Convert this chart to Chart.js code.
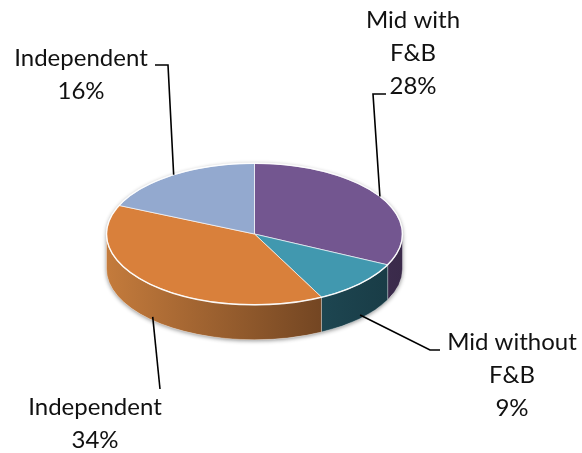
<!doctype html>
<html lang="en">
<head>
<meta charset="utf-8">
<title>Market share</title>
<style>
  html, body { margin: 0; padding: 0; background: #fff; }
  canvas { display: block; }
</style>
</head>
<body>
<canvas id="shareChart" width="582" height="453"></canvas>

<script src="https://cdn.jsdelivr.net/npm/chart.js"></script>
<script>
// slice data, clockwise from 12 o'clock
const categories = [['Mid with', 'F&B'], ['Mid without', 'F&B'], ['Independent'], ['Independent']];
const shares = [28, 9, 34, 16];
const topColors = ['#735690', '#4198AF', '#D9803B', '#93A9CF'];
const sideLight = ['#5E4676', '#2B6573', '#C47B3C', '#7A8DB0'];
const sideDark = ['#3A2A4A', '#183A44', '#553219', '#4C5A75'];

// label placement: text centre, line height, leader start and elbow
const labelPos = [
  { x: 413, y: 20, anchor: [386, 94], elbow: [373, 94] },
  { x: 512, y: 342, anchor: [440, 350], elbow: [430, 350] },
  { x: 95, y: 407, anchor: [160, 389], elbow: [160, 389] },
  { x: 81, y: 58, anchor: [155, 65], elbow: [168, 65] }
];
const LINE_H = 33;

const TILT = 0.478;   // vertical squash of the top face
const DEPTH = 35;     // thickness of the disc

function frontRanges(s, e) {
  const out = [];
  [[0, Math.PI], [2 * Math.PI, 3 * Math.PI]].forEach(function (r) {
    const a = Math.max(s, r[0]), b = Math.min(e, r[1]);
    if (b > a) out.push([a, b]);
  });
  return out;
}

const pie3d = {
  id: 'pie3d',
  beforeDatasetsDraw(chart) {
    const ctx = chart.ctx;
    const arcs = chart.getDatasetMeta(0).data;
    const cx = arcs[0].x, cy = arcs[0].y, r = arcs[0].outerRadius;
    const ry = r * TILT;

    // soft shadow round the whole disc
    ctx.save();
    ctx.beginPath();
    ctx.ellipse(cx, cy, r, ry, 0, Math.PI, 2 * Math.PI);
    ctx.ellipse(cx, cy + DEPTH, r, ry, 0, 0, Math.PI);
    ctx.closePath();
    ctx.shadowColor = 'rgba(0,0,0,0.45)';
    ctx.shadowBlur = 4;
    ctx.shadowOffsetY = 1;
    ctx.fillStyle = '#fff';
    ctx.fill();
    ctx.restore();

    // side walls of the slices facing the viewer
    arcs.forEach(function (arc, i) {
      frontRanges(arc.startAngle, arc.endAngle).forEach(function (rg) {
        ctx.beginPath();
        ctx.ellipse(cx, cy, r, ry, 0, rg[0], rg[1]);
        ctx.ellipse(cx, cy + DEPTH, r, ry, 0, rg[1], rg[0], true);
        ctx.closePath();
        const g = ctx.createLinearGradient(cx - r, 0, cx + r, 0);
        g.addColorStop(0, sideLight[i]);
        g.addColorStop(1, sideDark[i]);
        ctx.fillStyle = g;
        ctx.fill();
        ctx.strokeStyle = 'rgba(255,255,255,0.35)';
        ctx.lineWidth = 0.8;
        ctx.stroke();
      });
    });

    // squash the top face
    ctx.save();
    ctx.translate(cx, cy);
    ctx.scale(1, TILT);
    ctx.translate(-cx, -cy);
  },
  afterDatasetsDraw(chart) {
    const ctx = chart.ctx;
    ctx.restore();
    const arcs = chart.getDatasetMeta(0).data;
    const cx = arcs[0].x, cy = arcs[0].y, r = arcs[0].outerRadius;
    const ry = r * TILT;

    // light rim on the top edge
    ctx.save();
    ctx.beginPath();
    ctx.ellipse(cx, cy, r, ry, 0, 0, 2 * Math.PI);
    ctx.strokeStyle = 'rgba(255,255,255,0.9)';
    ctx.lineWidth = 1.4;
    ctx.stroke();
    ctx.restore();

    // labels with leader lines
    ctx.save();
    ctx.font = '24px Lato';
    ctx.fillStyle = '#111';
    ctx.textAlign = 'center';
    ctx.textBaseline = 'middle';
    ctx.strokeStyle = '#000';
    ctx.lineWidth = 1.6;
    arcs.forEach(function (arc, i) {
      const pos = labelPos[i];
      const lines = categories[i].concat([shares[i] + '%']);
      lines.forEach(function (t, k) {
        ctx.fillText(t, pos.x, pos.y + k * LINE_H);
      });
      const mid = (arc.startAngle + arc.endAngle) / 2;
      let tx = cx + r * Math.cos(mid);
      let ty = cy + ry * Math.sin(mid);
      if (Math.sin(mid) > 0.2) ty += DEPTH * 0.9;
      ctx.beginPath();
      ctx.moveTo(pos.anchor[0], pos.anchor[1]);
      ctx.lineTo(pos.elbow[0], pos.elbow[1]);
      ctx.lineTo(tx, ty);
      ctx.stroke();
    });
    ctx.restore();
  }
};

new Chart(document.getElementById('shareChart'), {
  type: 'pie',
  data: {
    labels: categories.map(function (c) { return c.join(' '); }),
    datasets: [{
      data: shares,
      backgroundColor: topColors,
      borderColor: 'rgba(255,255,255,0.85)',
      borderWidth: 1,
      hoverOffset: 0,
      clip: false
    }]
  },
  options: {
    responsive: false,
    animation: false,
    events: [],
    layout: { padding: { left: 106, top: 85.5, right: 179, bottom: 70.5 } },
    plugins: {
      legend: { display: false },
      tooltip: { enabled: false }
    }
  },
  plugins: [pie3d]
});
</script>
</body>
</html>
